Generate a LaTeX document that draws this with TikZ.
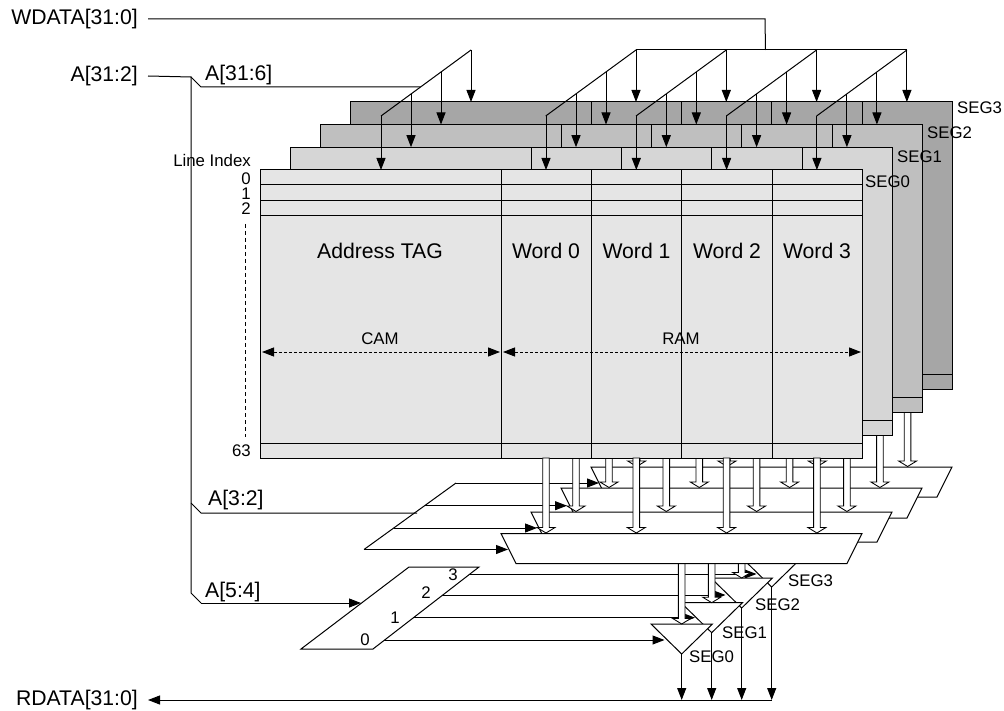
\documentclass[tikz,border=0pt]{standalone}
\usepackage{fontspec}
\setmainfont{Liberation Sans}
\usetikzlibrary{arrows.meta}

\newcommand{\hollowdown}[3]{% x, top, tip
	\filldraw[hollow] (#1-3.3,#2) -- (#1-3.3,#3-5.5) -- (#1-9,#3-5.5) -- (#1,#3) -- (#1+9,#3-5.5) -- (#1+3.3,#3-5.5) -- (#1+3.3,#2) -- cycle;
}

\tikzset{
	wire/.style={draw=black,line width=1pt},
	hollow/.style={draw=black,fill=white,line width=0.85pt},
	big/.style={font=\fontsize{21.2}{23}\selectfont,inner sep=0pt},
	small/.style={font=\fontsize{16.8}{19}\selectfont,inner sep=0pt},
}

\begin{document}
\begin{tikzpicture}[x=1pt,y=-1pt,>={Triangle[length=12pt,width=9pt]}]
	\useasboundingbox (0,0) rectangle (1004,711);

	% Labels
	\node[big,anchor=east] (wdata) at (138,19) {WDATA[31:0]};
	\node[big,anchor=east] (addr) at (138,76) {A[31:2]};
	\node[big,anchor=west] (tagaddr) at (205,75) {A[31:6]};
	\node[big,anchor=west] (wordaddr) at (208,500) {A[3:2]};
	\node[big,anchor=west] (segaddr) at (205,592) {A[5:4]};
	\node[big,anchor=east] (rdata) at (138,700) {RDATA[31:0]};

	% Select lines of the word muxes
	\foreach \name/\xa/\ya/\xb in {sa/456/483/599,sb/425/505.7/567,sc/394/528/537,sd/364/549.5/508}{
		\coordinate (\name l) at (\xa,\ya);
		\coordinate (\name r) at (\xb,\ya);
		\draw[wire,->] (\name l) -- (\name r);
	}
	\draw[wire] (sal) -- (sdl);

	% Select lines of the segment drivers
	\foreach \xa/\ya/\xb in {470/574/756.5,442/595/725.5,413/617.7/695,384/640/664.5}
		\draw[wire,->] (\xa,\ya) -- (\xb,\ya);
	\filldraw[wire,fill=white] (301,649) -- (373,649) -- (479,567) -- (409,567) -- cycle;

	% Segment drivers, back to front
	\foreach \n/\i/\apex in {3/3/587,2/2/608,1/1/632.7,0/0/654}{
		\pgfmathsetmacro{\dx}{30*\i}
		\coordinate (out\n) at (681.7+\dx,\apex);
		\filldraw[wire,fill=white] (651+\dx,\apex-30) -- (712.4+\dx,\apex-30) -- (out\n) -- cycle;
		\hollowdown{681.7+\dx}{555}{\apex-30}
	}

	% Segments, back to front
	\foreach \i/\ytop/\ybot/\lev/\muxtop/\hx in {
		3/102/389/35/467/636.7,
		2/124.5/412/25/488/609,
		1/147.2/435/16/512/576,
		0/170/458/10/533.5/546}
	{
		\pgfmathsetmacro{\dx}{30*\i}
		% Array
		\filldraw[wire,fill=black!\lev] (260+\dx,\ytop) rectangle (862+\dx,\ybot);
		\draw[wire] (260+\dx,\ybot-15) -- (862+\dx,\ybot-15);
		\foreach \col in {501,591,681.3,772}
			\draw[wire] (\col+\dx,\ytop) -- (\col+\dx,\ybot);
		% Word mux
		\filldraw[wire,fill=white] (501+\dx,\muxtop) -- (862+\dx,\muxtop) -- (847+\dx,\muxtop+30) -- (516+\dx,\muxtop+30) -- cycle;
		\foreach \col in {0,1,2,3}{
			\hollowdown{\hx+90.3*\col}{\ybot}{\muxtop-0.5}
		}
	}

	% Rows of the front array
	\foreach \y in {185,201,216}
		\draw[wire] (260,\y) -- (862,\y);

	% Address tag feed
	\coordinate (tagtop) at (471,50);
	\coordinate (tagend) at (381,116);
	\draw[wire] (tagtop) -- (tagend);
	\foreach \x/\ya/\yb in {471/50/102,441/72/124.5,411/94/147.2,381/116/170}
		\draw[wire,->] (\x,\ya) -- (\x,\yb);

	% Write data feed
	\coordinate (bus) at (765.5,50);
	\draw[wire] ([xshift=10pt]wdata.east) -- (765,19) -- (bus);
	\draw[wire] (636,50) -- (907,50);
	\foreach \k in {0,1,2,3}{
		\pgfmathsetmacro{\xk}{636+90.3*\k}
		\draw[wire] (\xk,50) -- (\xk-90.3,116);
		\foreach \x/\ya/\yb in {0/50/102,30/72/124.5,60/94/147.2,90/116/170}
			\draw[wire,->] (\xk-\x,\ya) -- (\xk-\x,\yb);
	}

	% Address bus
	\coordinate (abus) at (191,77);
	\coordinate (abusend) at (191,593);
	\draw[wire] ([xshift=10pt]addr.east) -- (abus) -- (abusend) -- (201,603);
	\draw[wire,->] (201,603) -- (361,603);
	\draw[wire] (abus) -- (201,87) -- (420.5,87);
	\draw[wire] (191,503) -- (201,513) -- (417,513);

	% Read data bus
	\draw[wire,->] (out3 |- rdata.east) -- ([xshift=10pt]rdata.east);
	\foreach \n in {0,1,2,3}
		\draw[wire,->] (out\n) -- (out\n |- rdata.east);

	% Line index
	\node[small,anchor=east] (lineindex) at (251,160) {Line Index};
	\foreach \txt/\y in {0/179,1/194,2/209,63/451}
		\node[small,anchor=east] (row\txt) at (251,\y) {\txt};
	\draw[line width=0.9pt,dash pattern=on 4pt off 3pt] (245,224) -- (245,437);

	% Column labels
	\foreach \txt/\x in {Address TAG/380,Word 0/546,Word 1/636.5,Word 2/727,Word 3/817}
		\node[big] (col\x) at (\x,251) {\txt};
	\node[small] (cam) at (380,339) {CAM};
	\node[small] (ram) at (681,339) {RAM};
	\draw[line width=1pt,dash pattern=on 3pt off 2pt,<->] (262,352) coordinate (caml) -- (500,352) coordinate (camr);
	\draw[line width=1pt,dash pattern=on 3pt off 2pt,<->] (503,352) coordinate (raml) -- (861,352) coordinate (ramr);

	% Segment labels
	\foreach \i/\x/\y in {3/957/108,2/927/133,1/897/157,0/865/182}
		\node[small,anchor=west] (seg\i) at (\x,\y) {SEG\i};
	\foreach \i/\x/\y in {3/788/581,2/755/605,1/722/633,0/689/657}
		\node[small,anchor=west] (drv\i) at (\x,\y) {SEG\i};

	% Select numbers
	\foreach \i/\x/\y in {3/453/575,2/426/593,1/395/618,0/365/640}
		\node[small] (sel\i) at (\x,\y) {\i};
\end{tikzpicture}
\end{document}
